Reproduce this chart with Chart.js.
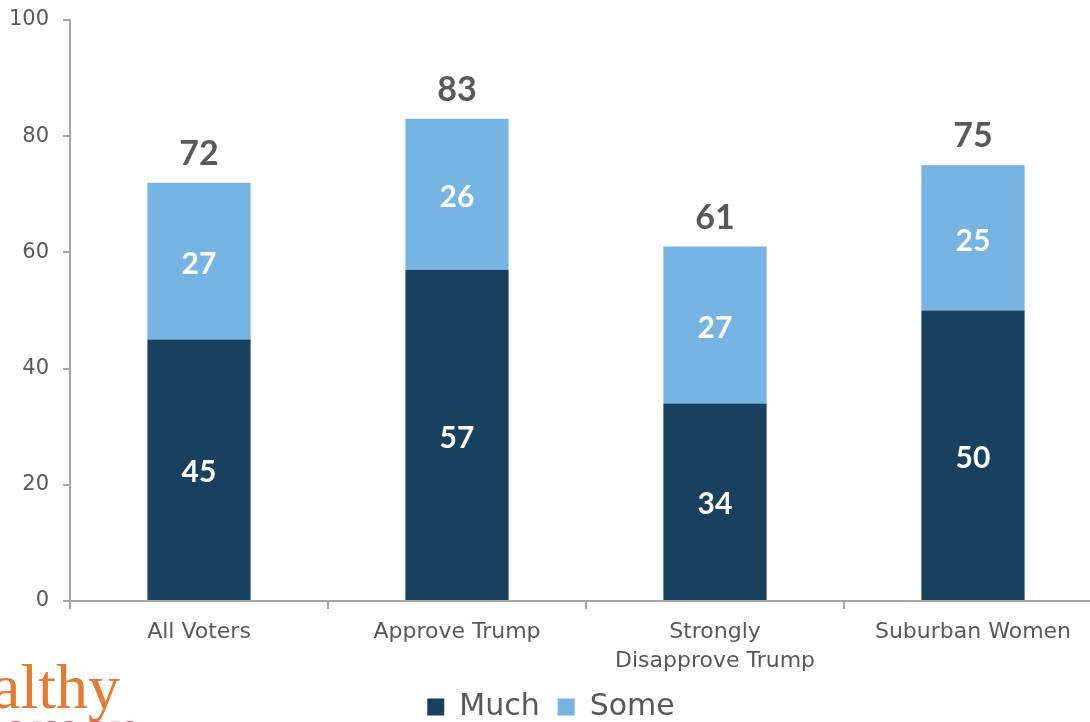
<!DOCTYPE html>
<html>
<head>
<meta charset="utf-8">
<script src="https://cdn.jsdelivr.net/npm/chart.js@4.4.1/dist/chart.umd.min.js"></script>
<style>
  html, body { margin: 0; padding: 0; background: #fff; overflow: hidden; }
  #wrap { width: 1110px; height: 722px; }
</style>
</head>
<body>
<div id="wrap"><canvas id="chart" width="1110" height="722"></canvas></div>
<script>
// --- data ---
const categories = ['All Voters', 'Approve Trump', ['Strongly', 'Disapprove Trump'], 'Suburban Women'];
const muchValues = [45, 57, 34, 50];
const someValues = [27, 26, 27, 25];
const totalValues = [72, 83, 61, 75];
const yTicks = [0, 20, 40, 60, 80, 100];

const TEXT = '#595959';
const AXIS = '#a6a6a6';
const FONT = '"DejaVu Sans", sans-serif';

// numbers inside the bars + totals on top
const labelsPlugin = {
    id: 'barLabels',
    afterDatasetsDraw(chart) {
        const ctx = chart.ctx;
        ctx.save();
        ctx.textAlign = 'center';
        ctx.textBaseline = 'middle';
        chart.data.datasets.forEach((ds, i) => {
            const meta = chart.getDatasetMeta(i);
            meta.data.forEach((bar, j) => {
                const mid = (bar.y + bar.base) / 2;
                ctx.fillStyle = '#ffffff';
                ctx.font = 'bold 30px Lato, sans-serif';
                ctx.fillText(ds.data[j], bar.x, mid + 3);
            });
        });
        const top = chart.getDatasetMeta(1);
        top.data.forEach((bar, j) => {
            ctx.fillStyle = TEXT;
            ctx.font = 'bold 34px Lato, sans-serif';
            ctx.fillText(totalValues[j], bar.x, bar.y - 29);
        });
        ctx.restore();
    }
};

// cropped logo in the bottom-left corner
const logoPlugin = {
    id: 'logo',
    afterDraw(chart) {
        const ctx = chart.ctx;
        ctx.save();
        ctx.textAlign = 'right';
        ctx.textBaseline = 'alphabetic';
        ctx.font = '64px "Liberation Serif", serif';
        ctx.fillStyle = '#e57a35';
        ctx.fillText('healthy', 120, 708);
        ctx.fillStyle = '#d9467a';
        ctx.fillText('women', 142, 751);
        ctx.restore();
    }
};

new Chart(document.getElementById('chart'), {
    type: 'bar',
    data: {
        labels: categories,
        datasets: [
            { label: 'Much', data: muchValues, backgroundColor: '#17415f', barPercentage: 0.4, categoryPercentage: 1 },
            { label: 'Some', data: someValues, backgroundColor: '#75b4e3', barPercentage: 0.4, categoryPercentage: 1 }
        ]
    },
    options: {
        responsive: false,
        animation: false,
        layout: { padding: { top: 20, right: 8, left: 0, bottom: -10 } },
        plugins: {
            legend: {
                position: 'bottom',
                labels: {
                    color: TEXT,
                    font: { family: FONT, size: 30 },
                    boxWidth: 17,
                    boxHeight: 17,
                    padding: 18
                }
            },
            tooltip: { enabled: false }
        },
        scales: {
            x: {
                stacked: true,
                grid: { display: true, drawOnChartArea: false, color: AXIS, tickLength: 8, offset: true, lineWidth: 2 },
                border: { color: AXIS, width: 2 },
                ticks: { color: TEXT, font: { family: FONT, size: 22, lineHeight: 1.32 }, padding: 9, maxRotation: 0 },
                afterFit: s => { s.height = 73; s.paddingLeft = 0; s.paddingRight = 0; }
            },
            y: {
                stacked: true,
                min: 0,
                max: 100,
                afterBuildTicks: s => { s.ticks = yTicks.map(v => ({ value: v })); },
                grid: { display: true, drawOnChartArea: false, color: AXIS, tickLength: 7, lineWidth: 2 },
                border: { color: AXIS, width: 2 },
                ticks: { color: TEXT, font: { family: FONT, size: 21 }, padding: 14 },
                afterFit: s => { s.width = 70; s.paddingTop = 0; s.paddingBottom = 0; }
            }
        }
    },
    plugins: [labelsPlugin, logoPlugin]
});
</script>
</body>
</html>
